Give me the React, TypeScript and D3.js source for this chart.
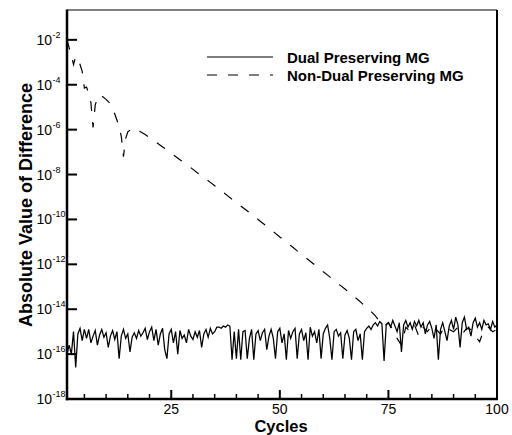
import React from 'react';
import * as d3 from 'd3';

// log10 of |difference|, sampled every half cycle from cycle 1 to 100
const dualLog = [
  -16.0, -15.6, -16.0, -15.0, -16.6, -15.1, -14.85, -15.4, -14.9, -15.3,
  -14.9, -15.5, -15.2, -14.95, -15.6, -15.15, -14.9, -15.25, -15.05, -15.7,
  -15.2, -14.95, -15.35, -15.0, -16.2, -15.2, -14.9, -15.3, -15.1, -15.9,
  -15.25, -15.05, -15.3, -14.95, -15.2, -15.05, -14.85, -15.35, -15.0, -14.8,
  -15.4, -14.9, -15.6, -15.1, -14.85, -15.8, -16.2, -15.1, -14.9, -15.5,
  -15.0, -16.0, -14.95, -15.3, -15.15, -15.5, -14.9, -15.2, -15.35, -15.0,
  -15.25, -14.95, -15.7, -15.1, -14.9, -15.25, -14.85, -15.1, -15.0, -14.8,
  -14.8, -14.85, -14.75, -14.8, -14.7, -14.75, -16.25, -15.0, -16.2, -14.9,
  -16.25, -15.0, -14.95, -16.2, -15.3, -14.9, -16.25, -15.1, -14.95, -15.4,
  -15.05, -14.9, -15.8, -15.2, -14.9, -15.3, -16.2, -15.0, -14.85, -15.5,
  -15.1, -16.25, -14.95, -15.3, -15.0, -14.85, -16.2, -15.1, -14.9, -15.4,
  -15.05, -16.25, -14.8, -15.2, -15.0, -15.5, -14.9, -16.2, -15.1, -14.85,
  -14.7, -15.3, -16.25, -15.0, -14.9, -15.2, -15.05, -16.2, -15.15, -14.95,
  -15.3, -16.25, -15.0, -14.9, -15.4, -15.1, -16.25, -15.0, -14.85, -14.75,
  -14.9, -14.7, -14.6, -14.75, -14.55, -14.65, -16.3, -14.7, -14.6, -14.8,
  -14.5, -14.75, -15.0, -14.6, -15.9, -14.7, -14.5, -14.8, -14.6, -14.9,
  -14.55, -14.75, -14.5, -14.8, -14.6, -15.1, -14.7, -14.55, -14.85, -15.3,
  -14.7, -16.25, -14.9, -14.6, -15.0, -15.4, -14.75, -14.5, -14.9, -14.35,
  -14.7, -15.7, -14.6, -14.35, -14.9, -14.8, -15.2, -14.6, -14.4, -14.8,
  -14.6, -14.9, -14.5, -14.7, -14.65, -14.9, -14.55, -14.8, -14.7,
];
const dualCycles = dualLog.map((_, i) => 1 + i * 0.5);

const nonDualCycles = [
  1, 1.5, 2, 2.5, 3, 3.5, 4, 4.5, 5, 5.5, 6, 6.5, 7, 7.5, 8, 8.5, 9, 10, 11, 12,
  13, 13.5, 14, 14.5, 15, 16, 16.5, 17,
  18, 19, 20, 21, 22, 23, 24, 25, 26, 27, 28, 29, 30, 31, 32, 33, 34, 35, 36, 37,
  38, 39, 40, 41, 42, 43, 44, 45, 46, 47, 48, 49, 50, 51, 52, 53, 54, 55, 56, 57,
  58, 59, 60, 61, 62, 63, 64, 65, 66, 67, 68, 69, 70, 71, 72, 73, 74, 75, 76, 77,
  78, 79, 80, 81, 82, 83, 84, 85, 86, 87, 88, 89, 90, 91, 92, 93, 94, 95, 96, 97,
  98, 99, 100,
];
const nonDualLog = [
  -2.0, -2.35, -2.7, -3.1, -2.75, -2.85, -3.1, -3.4, -4.15, -4.1, -4.4, -4.8, -5.9, -4.9, -4.6, -4.45, -4.5, -4.65, -4.85, -5.3,
  -5.85, -6.3, -7.2, -6.4, -6.1, -5.95, -5.92, -5.98,
  -6.1, -6.22, -6.35, -6.5, -6.63, -6.77, -6.9, -7.05, -7.2, -7.34, -7.48, -7.62, -7.77, -7.92, -8.06, -8.2, -8.35, -8.5, -8.65, -8.8,
  -8.95, -9.1, -9.25, -9.4, -9.55, -9.7, -9.86, -10.0, -10.16, -10.31, -10.47, -10.62, -10.78, -10.93, -11.09, -11.24, -11.4, -11.55, -11.71, -11.86,
  -12.02, -12.17, -12.33, -12.48, -12.64, -12.8, -12.95, -13.1, -13.26, -13.42, -13.58, -13.75, -13.95, -14.1, -14.3, -14.55, -14.75, -14.6, -14.9, -15.3,
  -15.6, -14.8, -15.0, -14.7, -15.2, -14.8, -15.0, -14.7, -14.9, -15.1, -14.75, -14.9, -15.0, -14.8, -15.1, -14.85, -14.9, -15.2, -15.45, -14.9,
  -14.8, -15.0, -14.9,
];

const xMajor = [25, 50, 75, 100];
const xMinor = [5, 10, 15, 20, 30, 35, 40, 45, 55, 60, 65, 70, 80, 85, 90, 95];
const yExps = [-2, -4, -6, -8, -10, -12, -14, -16, -18];

const W = 512, H = 435;
const L = 67, R = 497, T = 10, B = 399;
const font = 'Liberation Sans, Arial, Helvetica, sans-serif';

export default function App() {
  const x = d3.scaleLinear().domain([1, 100]).range([L, R]);
  const y = d3.scaleLog().domain([1e-18, Math.pow(10, -0.67)]).range([B, T]);

  const line = d3.line<[number, number]>()
    .x(d => x(d[0]))
    .y(d => y(Math.pow(10, d[1])));

  const dualPts = dualCycles.map((c, i) => [c, dualLog[i]] as [number, number]);
  const nonDualPts = nonDualCycles.map((c, i) => [c, nonDualLog[i]] as [number, number]);

  return (
    <svg width={W} height={H} style={{ position: 'absolute', left: 0, top: 0, background: '#fff' }}
      fontFamily={font}>
      <rect x={0} y={0} width={W} height={H} fill="#fff" />
      <path d={line(nonDualPts) || ''} fill="none" stroke="#000" strokeWidth={1.2} strokeDasharray="10,11" />
      <path d={line(dualPts) || ''} fill="none" stroke="#000" strokeWidth={1.25} strokeLinejoin="miter" />

      {/* frame */}
      <line x1={L} x2={R} y1={T} y2={T} stroke="#000" strokeWidth={1.2} />
      <line x1={R} x2={R} y1={T} y2={B} stroke="#000" strokeWidth={2} />
      <line x1={L} x2={L} y1={T - 0.6} y2={B + 1.2} stroke="#000" strokeWidth={2.5} />
      <line x1={L - 1.2} x2={R + 1} y1={B} y2={B} stroke="#000" strokeWidth={2.5} />

      {/* y ticks */}
      {yExps.map(e => (
        <g key={e}>
          <line x1={L} x2={L + 10} y1={y(Math.pow(10, e))} y2={y(Math.pow(10, e))} stroke="#000" strokeWidth={2} />
          <text x={52} y={y(Math.pow(10, e)) + 5} fontSize={14} textAnchor="end">10</text>
          <text x={52.5} y={y(Math.pow(10, e)) - 2} fontSize={9}>{e}</text>
        </g>
      ))}

      {/* x ticks */}
      {xMinor.map(v => (
        <line key={v} x1={x(v)} x2={x(v)} y1={B} y2={B - 5} stroke="#000" strokeWidth={1.5} />
      ))}
      {xMajor.map(v => (
        <g key={v}>
          {v < 100 && <line x1={x(v)} x2={x(v)} y1={B} y2={B - 9} stroke="#000" strokeWidth={2} />}
          <text x={x(v)} y={B + 15} fontSize={14} textAnchor="middle">{v}</text>
        </g>
      ))}

      <text x={281} y={431.5} fontSize={16.5} fontWeight="bold" textAnchor="middle">Cycles</text>
      <text transform={`translate(32,205) rotate(-90)`} fontSize={18} fontWeight="bold" textAnchor="middle">
        Absolute Value of Difference
      </text>

      {/* legend */}
      <line x1={207} x2={273} y1={57} y2={57} stroke="#000" strokeWidth={1.2} />
      <text x={287} y={62.5} fontSize={15} fontWeight="bold">Dual Preserving MG</text>
      <line x1={207} x2={273} y1={75} y2={75} stroke="#000" strokeWidth={1.2} strokeDasharray="10,11" />
      <text x={287} y={80.5} fontSize={15} fontWeight="bold">Non-Dual Preserving MG</text>
    </svg>
  );
}
